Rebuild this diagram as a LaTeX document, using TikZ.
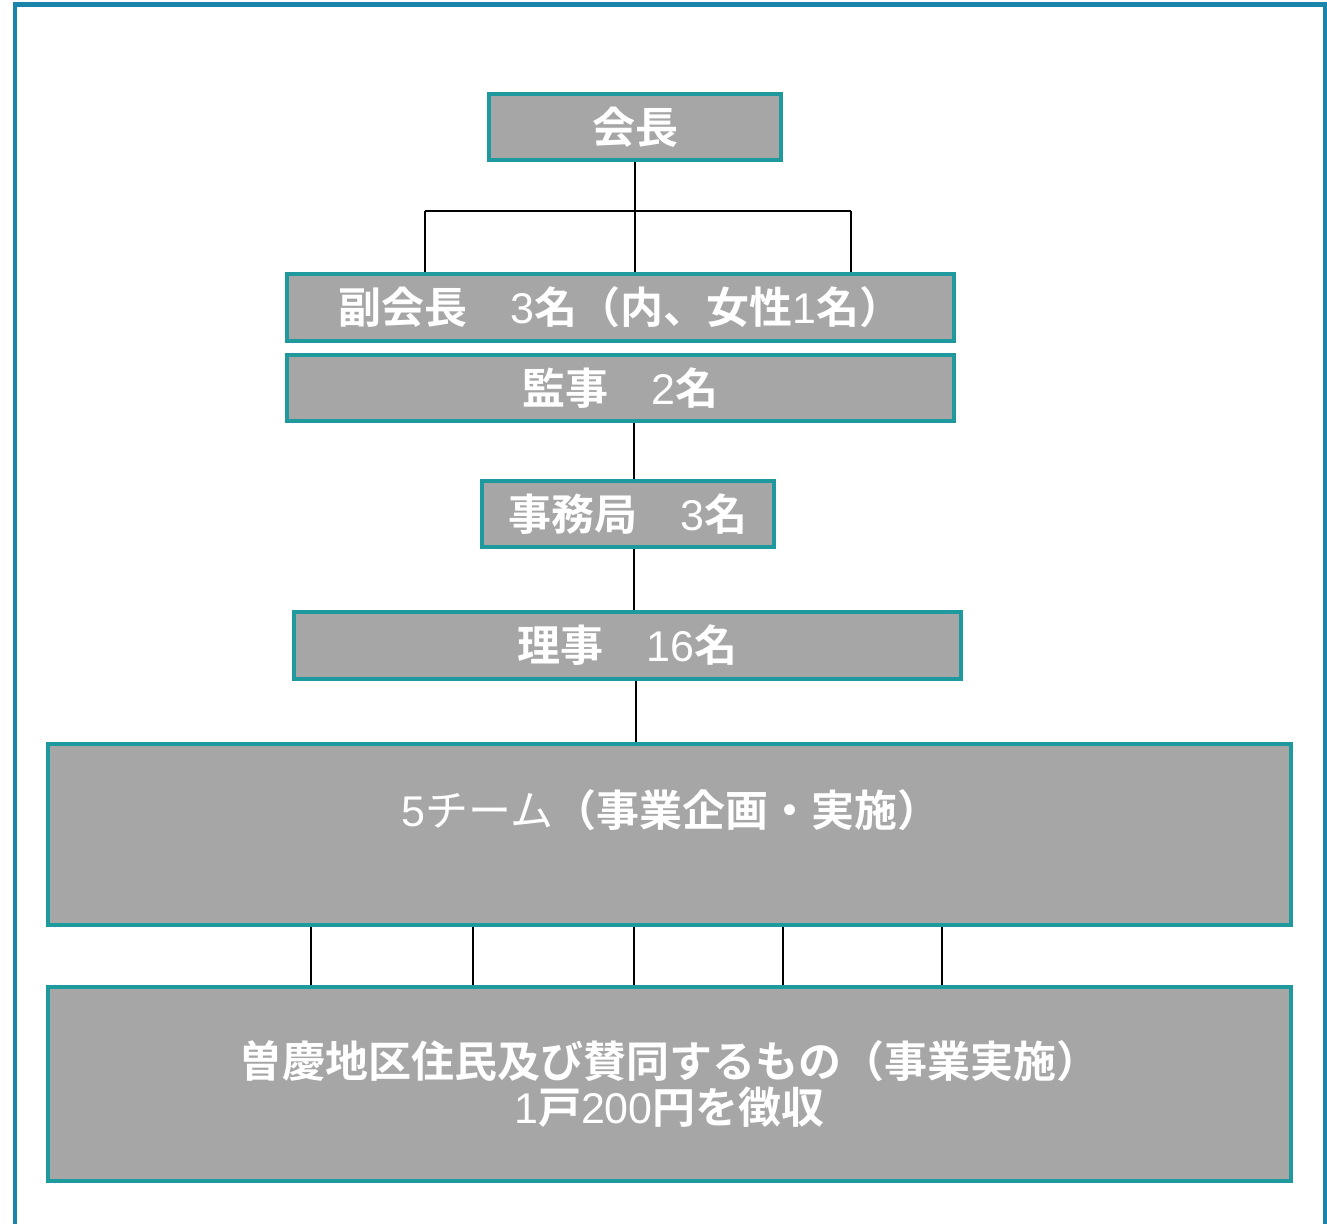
\documentclass[tikz,border=0pt]{standalone}
\usepackage{fontspec}
\newfontfamily\cjk[BoldFont={Noto Sans CJK JP Bold}]{Noto Sans CJK JP}
\newfontfamily\latf{Liberation Sans}
\newcommand{\dg}[1]{{\latf\mdseries #1}}
\definecolor{framec}{HTML}{1A84AB}
\definecolor{boxedge}{HTML}{1E9A9E}
\definecolor{boxfill}{HTML}{A6A6A6}
\tikzset{
  orgbox/.style={draw=boxedge, fill=boxfill, line width=4.5pt, rectangle, inner sep=0pt,
    text=white, font=\cjk\bfseries\fontsize{43}{50}\selectfont},
  conn/.style={draw=black, line width=2.5pt},
  lbl/.style={text=white, inner sep=0pt, align=center, font=\cjk\bfseries\fontsize{43}{50}\selectfont}
}
\begin{document}
\begin{tikzpicture}[x=1pt,y=-1pt]
\useasboundingbox (0,0) rectangle (1327,1223);
\clip (0,0) rectangle (1327,1223);
\fill[white] (0,0) rectangle (1327,1223);
% outer frame
\draw[framec, line width=4.5pt] (15,1240) -- (15,4.5) -- (1325,4.5) -- (1325,1240);

% boxes
\node[orgbox, minimum width=292pt, minimum height=66pt] (kaicho) at (635,127) {会長};
\node[orgbox, minimum width=667pt, minimum height=67pt] (fuku) at (620.5,307.5) {副会長　\dg{3}名（内、女性\dg{1}名）};
\node[orgbox, minimum width=667pt, minimum height=66pt] (kanji) at (620.5,388) {監事　\dg{2}名};
\node[orgbox, minimum width=292pt, minimum height=66pt] (jimu) at (628,514) {事務局　\dg{3}名};
\node[orgbox, minimum width=667pt, minimum height=67pt] (riji) at (627.5,645.5) {理事　\dg{16}名};
\node[orgbox, minimum width=1243pt, minimum height=181pt] (team) at (669.5,834.5) {};
\node[lbl] (teamlbl) at (671,810) {\dg{5}{\mdseries チーム}（事業企画・実施）};
\node[orgbox, minimum width=1243pt, minimum height=194pt, align=center] (jumin) at (669.5,1084)
  {曽慶地区住民及び賛同するもの（事業実施）\\[-4pt]\dg{1}戸\dg{200}円を徴収};

% connectors
\coordinate (jc) at (635,211);
\coordinate (jl) at (425,211);
\coordinate (jr) at (851,211);
\draw[conn] (kaicho.south) -- (jc);
\draw[conn] (jl) -- (jr);
\draw[conn] (jl) -- (jl |- fuku.north);
\draw[conn] (jc) -- (jc |- fuku.north);
\draw[conn] (jr) -- (jr |- fuku.north);
\coordinate (xa) at (634,0);
\draw[conn] (kanji.south -| xa) -- (jimu.north -| xa);
\draw[conn] (jimu.south -| xa) -- (riji.north -| xa);
\coordinate (xb) at (636,0);
\draw[conn] (riji.south -| xb) -- (team.north -| xb);
\foreach \xx/\nm in {311/t1,473/t2,634/t3,783/t4,942/t5}{
  \coordinate (\nm) at (\xx,0);
  \draw[conn] (team.south -| \nm) -- (jumin.north -| \nm);
}
\end{tikzpicture}
\end{document}
